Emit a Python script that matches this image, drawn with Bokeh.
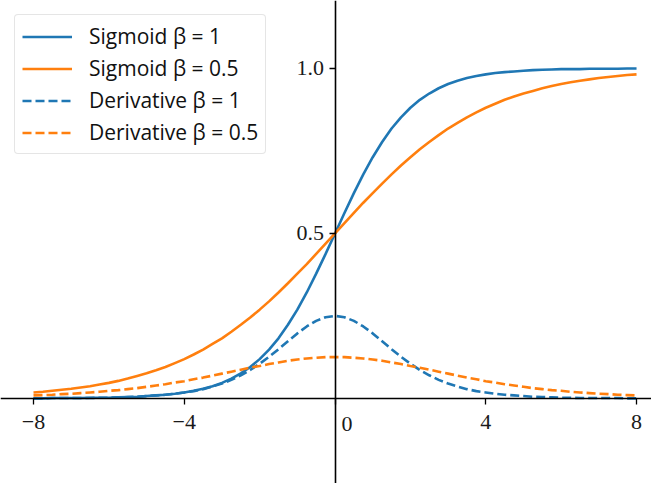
from bokeh.plotting import figure
from bokeh.models import FixedTicker, Legend, LegendItem, Label
from bokeh.embed import file_html
from bokeh.resources import INLINE

x = [-8.0, -7.75, -7.5, -7.25, -7.0, -6.75, -6.5, -6.25, -6.0, -5.75, -5.5, -5.25, -5.0,
     -4.75, -4.5, -4.25, -4.0, -3.75, -3.5, -3.25, -3.0, -2.75, -2.5, -2.25, -2.0,
     -1.75, -1.5, -1.25, -1.0, -0.75, -0.5, -0.25, 0.0, 0.25, 0.5, 0.75, 1.0, 1.25, 1.5,
     1.75, 2.0, 2.25, 2.5, 2.75, 3.0, 3.25, 3.5, 3.75, 4.0, 4.25, 4.5, 4.75, 5.0, 5.25,
     5.5, 5.75, 6.0, 6.25, 6.5, 6.75, 7.0, 7.25, 7.5, 7.75, 8.0]

sig_b1 = [0.000, 0.000, 0.001, 0.001, 0.001, 0.001, 0.002, 0.002, 0.002, 0.003, 0.004, 0.005, 0.007,
          0.009, 0.011, 0.014, 0.018, 0.023, 0.029, 0.037, 0.047, 0.060, 0.076, 0.095, 0.119,
          0.148, 0.182, 0.223, 0.269, 0.321, 0.378, 0.438, 0.500, 0.562, 0.622, 0.679, 0.731, 0.777, 0.818,
          0.852, 0.881, 0.905, 0.924, 0.940, 0.953, 0.963, 0.971, 0.977, 0.982, 0.986, 0.989, 0.991, 0.993, 0.995,
          0.996, 0.997, 0.998, 0.998, 0.998, 0.999, 0.999, 0.999, 0.999, 1.000, 1.000]

sig_b05 = [0.018, 0.020, 0.023, 0.026, 0.029, 0.033, 0.037, 0.042, 0.047, 0.053, 0.060, 0.068, 0.076,
           0.085, 0.095, 0.107, 0.119, 0.133, 0.148, 0.165, 0.182, 0.202, 0.223, 0.245, 0.269,
           0.294, 0.321, 0.349, 0.378, 0.407, 0.438, 0.469, 0.500, 0.531, 0.562, 0.593, 0.622, 0.651, 0.679,
           0.706, 0.731, 0.755, 0.777, 0.798, 0.818, 0.835, 0.852, 0.867, 0.881, 0.893, 0.905, 0.915, 0.924, 0.932,
           0.940, 0.947, 0.953, 0.958, 0.963, 0.967, 0.971, 0.974, 0.977, 0.980, 0.982]

der_b1 = [0.000, 0.000, 0.001, 0.001, 0.001, 0.001, 0.001, 0.002, 0.002, 0.003, 0.004, 0.005, 0.007,
          0.009, 0.011, 0.014, 0.018, 0.022, 0.028, 0.036, 0.045, 0.056, 0.070, 0.086, 0.105,
          0.126, 0.149, 0.173, 0.197, 0.218, 0.235, 0.246, 0.250, 0.246, 0.235, 0.218, 0.197, 0.173, 0.149,
          0.126, 0.105, 0.086, 0.070, 0.056, 0.045, 0.036, 0.028, 0.022, 0.018, 0.014, 0.011, 0.009, 0.007, 0.005,
          0.004, 0.003, 0.002, 0.002, 0.001, 0.001, 0.001, 0.001, 0.001, 0.000, 0.000]

der_b05 = [0.009, 0.010, 0.011, 0.013, 0.014, 0.016, 0.018, 0.020, 0.023, 0.025, 0.028, 0.031, 0.035,
           0.039, 0.043, 0.048, 0.052, 0.058, 0.063, 0.069, 0.075, 0.081, 0.087, 0.093, 0.098,
           0.104, 0.109, 0.114, 0.118, 0.121, 0.123, 0.125, 0.125, 0.125, 0.123, 0.121, 0.118, 0.114, 0.109,
           0.104, 0.098, 0.093, 0.087, 0.081, 0.075, 0.069, 0.063, 0.058, 0.052, 0.048, 0.043, 0.039, 0.035, 0.031,
           0.028, 0.025, 0.023, 0.020, 0.018, 0.016, 0.014, 0.013, 0.011, 0.010, 0.009]

x_ticks = [-8, -4, 0, 4, 8]
x_tick_labels = {-8: "\u22128", -4: "\u22124", 0: "", 4: "4", 8: "8"}
y_ticks = [0.5, 1.0]
y_tick_labels = {0.5: "0.5", 1.0: "1.0"}

labels = ["Sigmoid \u03b2 = 1", "Sigmoid \u03b2 = 0.5", "Derivative \u03b2 = 1", "Derivative \u03b2 = 0.5"]

BLUE = "#1f77b4"
ORANGE = "#ff7f0e"
TICK_FONT = "Liberation Serif"
TICK_SIZE = "22px"

p = figure(width=651, height=483, x_range=(-8.876, 8.397), y_range=(-0.258, 1.206),
           output_backend="svg", toolbar_location=None, min_border=0)
p.outline_line_color = None
p.xgrid.visible = False
p.ygrid.visible = False
p.background_fill_color = "white"

r1 = p.line(x, sig_b1, line_color=BLUE, line_width=2.6)
r2 = p.line(x, sig_b05, line_color=ORANGE, line_width=2.6)
r3 = p.line(x, der_b1, line_color=BLUE, line_width=2.6, line_dash="9 4")
r4 = p.line(x, der_b05, line_color=ORANGE, line_width=2.6, line_dash="9 4")

for ax in (p.xaxis, p.yaxis):
    ax.fixed_location = 0
    ax.axis_line_color = "black"
    ax.axis_line_width = 1.6
    ax.major_tick_line_color = "black"
    ax.major_tick_line_width = 1.3
    ax.major_tick_in = 0
    ax.major_tick_out = 6
    ax.minor_tick_line_color = None
    ax.major_label_text_font = TICK_FONT
    ax.major_label_text_font_size = TICK_SIZE
    ax.major_label_text_color = "#1a1a1a"

p.xaxis.ticker = FixedTicker(ticks=x_ticks)
p.xaxis.major_label_overrides = x_tick_labels
p.xaxis.major_label_standoff = 11
p.yaxis.ticker = FixedTicker(ticks=y_ticks)
p.yaxis.major_label_overrides = y_tick_labels
p.yaxis.major_label_standoff = 5

zero_label = Label(x=0, y=0, x_offset=12, y_offset=-19, text="0", text_align="center",
                   text_baseline="top", text_font=TICK_FONT, text_font_size=TICK_SIZE,
                   text_color="#1a1a1a")
p.add_layout(zero_label)

legend = Legend(items=[LegendItem(label=labels[0], renderers=[r1]),
                       LegendItem(label=labels[1], renderers=[r2]),
                       LegendItem(label=labels[2], renderers=[r3]),
                       LegendItem(label=labels[3], renderers=[r4])],
                location="top_left", margin=14, padding=7, spacing=4,
                glyph_width=50, glyph_height=25, label_height=25, label_standoff=17,
                label_text_font="Open Sans", label_text_font_size="21px",
                label_text_color="#111111",
                border_line_color="#cccccc", border_line_width=1.5,
                background_fill_color="white", background_fill_alpha=0.8)
if "border_radius" in Legend.properties():
    legend.border_radius = 4
p.add_layout(legend)

open("out.html", "w").write(file_html(p, INLINE))
